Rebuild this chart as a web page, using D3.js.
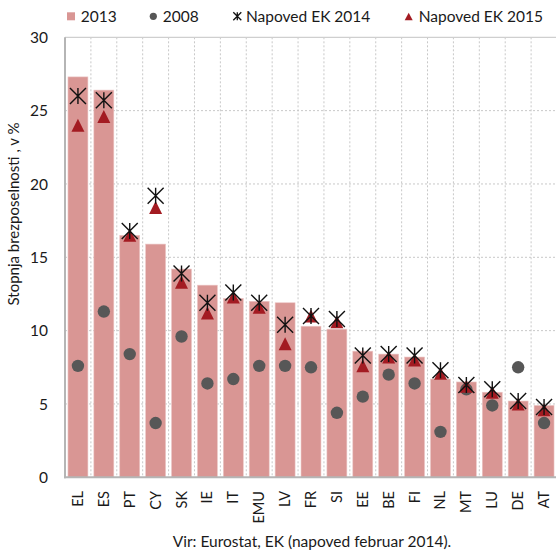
<!DOCTYPE html>
<html><head><meta charset="utf-8">
<script src="https://cdn.jsdelivr.net/npm/d3@7"></script>
<style>
html,body{margin:0;padding:0;background:#fff;}
svg{display:block;}
text{font-family:Lato,"Open Sans",sans-serif;fill:#1a1a1a;}
</style></head>
<body>
<svg id="chart" width="556" height="554"></svg>
<script>
const categories = ["EL","ES","PT","CY","SK","IE","IT","EMU","LV","FR","SI","EE","BE","FI","NL","MT","LU","DE","AT"];
const v2013 = [27.3,26.4,16.5,15.9,14.2,13.1,12.2,12.0,11.9,10.3,10.1,8.6,8.4,8.2,6.7,6.5,5.8,5.2,4.9];
const v2008 = [7.6,11.3,8.4,3.7,9.6,6.4,6.7,7.6,7.6,7.5,4.4,5.5,7.0,6.4,3.1,6.0,4.9,7.5,3.7];
const f2014 = [26.0,25.7,16.8,19.2,13.9,11.9,12.6,11.9,10.4,11.0,10.8,8.3,8.4,8.3,7.3,6.3,6.0,5.2,4.8];
const f2015 = [24.0,24.6,16.5,18.4,13.3,11.2,12.3,11.6,9.1,11.0,10.6,7.6,8.2,8.0,7.1,6.2,5.8,5.0,4.6];
const yTicks = [0,5,10,15,20,25,30];
const legendLabels = ["2013","2008","Napoved EK 2014","Napoved EK 2015"];
const yTitle = "Stopnja brezposelnosti , v %";
const sourceText = "Vir: Eurostat, EK (napoved februar 2014).";

const svg = d3.select("#chart");
const barColor = "#d99694", dotColor = "#575757", triColor = "#a31b22", gridColor = "#c8c8c8";

const x = d3.scaleBand().domain(categories).range([65, 557]).paddingInner(0.23).paddingOuter(0.115);
const y = d3.scaleLinear().domain([0, 30]).range([477.3, 37.3]);
const step = x.step();
const cx = d => x(d) + x.bandwidth() / 2;

// horizontal grid
svg.append("g").selectAll("line").data(yTicks.filter(t => t > 0 && t < 30)).join("line")
  .attr("x1", 65).attr("x2", 557).attr("y1", d => y(d)).attr("y2", d => y(d))
  .attr("stroke", gridColor).attr("stroke-width", 1).attr("stroke-dasharray", "2,2");
// vertical grid at category boundaries
svg.append("g").selectAll("line").data(categories.slice(1)).join("line")
  .attr("x1", (d, i) => x.range()[0] + (i + 1) * step).attr("x2", (d, i) => x.range()[0] + (i + 1) * step)
  .attr("y1", y(30)).attr("y2", y(0))
  .attr("stroke", gridColor).attr("stroke-width", 1).attr("stroke-dasharray", "2,2");
// top border
svg.append("line").attr("x1", 65).attr("x2", 557).attr("y1", y(30)).attr("y2", y(30))
  .attr("stroke", "#cfcfcf").attr("stroke-width", 1.2);

// bars
svg.append("g").selectAll("rect").data(categories).join("rect")
  .attr("x", d => x(d)).attr("width", x.bandwidth())
  .attr("y", (d, i) => y(v2013[i])).attr("height", (d, i) => y(0) - y(v2013[i]))
  .attr("fill", barColor).attr("stroke", "#ecc6c5").attr("stroke-width", 0.6);

// axes lines
svg.append("line").attr("x1", 65).attr("x2", 65).attr("y1", y(30)).attr("y2", y(0) + 1)
  .attr("stroke", "#b5b5b5").attr("stroke-width", 2);
svg.append("line").attr("x1", 64).attr("x2", 557).attr("y1", y(0)).attr("y2", y(0))
  .attr("stroke", "#b5b5b5").attr("stroke-width", 2);

// 2008 dots
svg.append("g").selectAll("circle").data(categories).join("circle")
  .attr("cx", d => cx(d)).attr("cy", (d, i) => y(v2008[i])).attr("r", 6.2).attr("fill", dotColor);

// star symbol path (X + vertical)
function starPath(s) {
  const h = s / 2;
  return `M${-h},${-h}L${h},${h}M${-h},${h}L${h},${-h}M0,${-h}L0,${h}`;
}
function triPath(w, hgt) {
  return `M0,${-hgt/2}L${w/2},${hgt/2}L${-w/2},${hgt/2}Z`;
}
// 2015 triangles
svg.append("g").selectAll("path").data(categories).join("path")
  .attr("transform", (d, i) => `translate(${cx(d)},${y(f2015[i])})`)
  .attr("d", triPath(13, 13)).attr("fill", triColor);
// 2014 stars
svg.append("g").selectAll("path").data(categories).join("path")
  .attr("transform", (d, i) => `translate(${cx(d)},${y(f2014[i])})`)
  .attr("d", starPath(16)).attr("stroke", "#111").attr("stroke-width", 1.4).attr("fill", "none");

// y tick labels
svg.append("g").selectAll("text").data(yTicks).join("text")
  .attr("x", 48).attr("y", d => y(d)).attr("dy", "0.36em").attr("text-anchor", "end")
  .attr("font-size", 15.5).text(d => d);

// x tick labels
svg.append("g").selectAll("text").data(categories).join("text")
  .attr("transform", d => `translate(${cx(d) + 5},491) rotate(-90)`)
  .attr("text-anchor", "end").attr("font-size", 14.5).text(d => d);

// y title
svg.append("text").attr("transform", "translate(19,214) rotate(-90)")
  .attr("text-anchor", "middle").attr("font-size", 15).text(yTitle);

// source
svg.append("text").attr("x", 312).attr("y", 547).attr("text-anchor", "middle")
  .attr("font-size", 15.5).text(sourceText);

// legend
const lg = svg.append("g");
lg.append("rect").attr("x", 67).attr("y", 12.3).attr("width", 8).attr("height", 8).attr("fill", barColor);
lg.append("circle").attr("cx", 153.3).attr("cy", 16.3).attr("r", 3.6).attr("fill", dotColor);
lg.append("path").attr("transform", "translate(237.3,16.3)").attr("d", starPath(8))
  .attr("stroke", "#111").attr("stroke-width", 1.3).attr("fill", "none");
lg.append("path").attr("transform", "translate(408.7,16.6)").attr("d", triPath(8, 7.5)).attr("fill", triColor);
const lx = [80.7, 162.7, 246, 418.7];
lg.selectAll("text").data(legendLabels).join("text")
  .attr("x", (d, i) => lx[i]).attr("y", 22).attr("font-size", 15.5).text(d => d);
</script>
</body></html>
